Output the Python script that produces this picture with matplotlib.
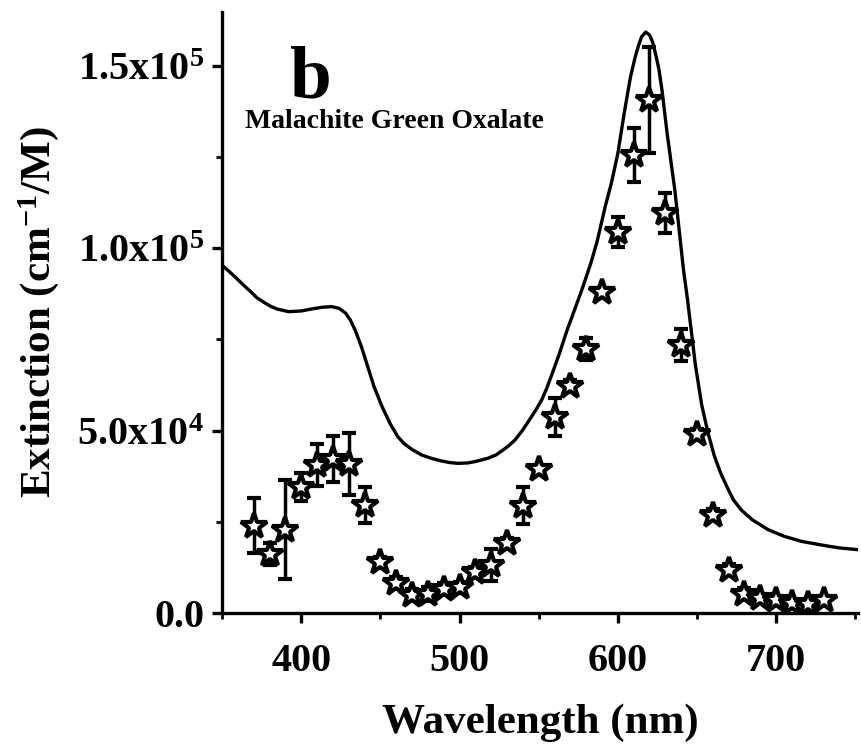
import matplotlib.pyplot as plt
from matplotlib.ticker import FixedLocator, MultipleLocator

plt.rcParams['font.family'] = ['Liberation Serif', 'DejaVu Serif']
plt.rcParams['font.weight'] = 'bold'
plt.rcParams['mathtext.fontset'] = 'custom'
plt.rcParams['mathtext.rm'] = 'Liberation Serif:bold'
plt.rcParams['mathtext.bf'] = 'Liberation Serif:bold'
plt.rcParams['mathtext.default'] = 'bf'

# calculated extinction spectrum (solid line)
curve_nm = [350, 354, 358, 363, 368, 372, 377, 381, 385, 392, 400, 406, 413, 419,
            424, 428, 431, 434, 438, 442, 446, 451, 456, 461, 465, 470, 476, 482,
            488, 494, 499, 505, 510, 518, 523, 527, 531, 535, 540, 545, 549, 552,
            555, 558, 563, 568, 573, 578, 583, 587, 592, 596, 600, 604, 608, 611,
            613, 615, 617.6, 620, 622, 624, 626, 628, 631, 633.5, 636, 639, 641.5,
            644, 646.5, 649, 653, 657, 661, 665, 669, 673, 678, 685, 695, 705, 716,
            730, 740, 752]
curve_ext = [95.3e3, 93.8e3, 92.2e3, 90.1e3, 88.1e3, 86.4e3, 85.0e3, 84.0e3, 83.3e3,
             82.6e3, 82.8e3, 83.3e3, 83.8e3, 84.0e3, 83.5e3, 82.2e3, 80.3e3, 77.6e3,
             73.0e3, 67.5e3, 62.0e3, 56.6e3, 52.0e3, 48.3e3, 46.4e3, 44.8e3, 43.3e3,
             42.4e3, 41.7e3, 41.2e3, 41.0e3, 41.1e3, 41.5e3, 42.4e3, 43.3e3, 44.5e3,
             45.8e3, 47.4e3, 50.2e3, 53.5e3, 56.2e3, 58.5e3, 61.5e3, 65.0e3, 71.0e3,
             77.6e3, 83.5e3, 89.5e3, 96.0e3, 102e3, 111.4e3, 118e3, 126e3, 137e3,
             147e3, 152.5e3, 155.5e3, 158e3, 159.3e3, 158.5e3, 156.5e3, 153e3,
             149e3, 143e3, 132e3, 124e3, 116e3, 104e3, 94e3, 86e3, 77e3, 68e3,
             57e3, 49.3e3, 43e3, 38.3e3, 34.5e3, 31.0e3, 28.2e3, 25.5e3, 22.8e3,
             21.0e3, 19.6e3, 18.5e3, 17.8e3, 17.3e3]

# measured points (stars with error bars)
meas_nm = [370, 380, 390, 400, 410, 420, 430, 440, 450, 460, 470, 480, 490, 500,
           510, 520, 530, 540, 550, 560, 570, 580, 590, 600, 610, 620, 630, 640,
           650, 660, 670, 680, 690, 700, 710, 720, 730]
meas_ext = [23.9e3, 16.2e3, 22.8e3, 34.6e3, 40.6e3, 42.2e3, 40.9e3, 29.6e3, 13.9e3,
            8.3e3, 4.9e3, 5.2e3, 6.6e3, 7.0e3, 11.2e3, 13.2e3, 19.1e3, 29.4e3,
            39.4e3, 53.8e3, 62.3e3, 72.4e3, 88.1e3, 104.5e3, 125.6e3, 140.7e3,
            109.6e3, 73.5e3, 49.0e3, 26.9e3, 11.8e3, 5.2e3, 4.1e3, 3.6e3, 2.7e3,
            2.5e3, 3.6e3]
meas_err = [7.6e3, 3.0e3, 13.6e3, 3.8e3, 5.7e3, 6.3e3, 8.5e3, 5.0e3, 1.5e3,
            1.5e3, 1.5e3, 2.0e3, 1.5e3, 1.5e3, 1.5e3, 4.4e3, 1.5e3, 5.0e3,
            1.0e3, 5.2e3, 1.5e3, 3.0e3, 1.0e3, 4.2e3, 7.5e3, 14.5e3,
            5.5e3, 4.4e3, 1.5e3, 1.5e3, 1.5e3, 1.5e3, 1.0e3, 1.0e3, 1.0e3,
            1.0e3, 1.0e3]

yticks = [0, 5e4, 1e5, 1.5e5]
ytick_labels = ['0.0', '5.0x10$^{4}$', '1.0x10$^{5}$', '1.5x10$^{5}$']
xticks = [400, 500, 600, 700]

fig = plt.figure(figsize=(8.61, 7.51), dpi=100)
ax = fig.add_axes([0.258, 0.184, 0.739, 0.80])

ax.plot(curve_nm, curve_ext, color='black', linewidth=2.4, zorder=2,
        solid_joinstyle='round')
ax.errorbar(meas_nm, meas_ext, yerr=meas_err, fmt='*', color='black',
            markersize=19, markerfacecolor='white', markeredgecolor='black',
            markeredgewidth=3, ecolor='black', elinewidth=2.5, capsize=5,
            capthick=2.5, zorder=3)

ax.set_xlim(350, 752)
ax.set_ylim(0, 1.648e5)

ax.spines['top'].set_visible(False)
ax.spines['right'].set_visible(False)
ax.spines['left'].set_linewidth(2.4)
ax.spines['bottom'].set_linewidth(2.4)

ax.xaxis.set_major_locator(FixedLocator(xticks))
ax.xaxis.set_minor_locator(MultipleLocator(50))
ax.yaxis.set_major_locator(FixedLocator(yticks))
ax.yaxis.set_minor_locator(MultipleLocator(2.5e4))
ax.set_yticklabels(ytick_labels)
ax.tick_params(axis='both', which='major', direction='out', length=7, width=2.4,
               labelsize=29)
ax.tick_params(axis='y', which='major', pad=6)
ax.tick_params(axis='x', which='major', pad=15)
ax.tick_params(axis='both', which='minor', direction='out', length=4, width=2)

ax.set_xlabel('Wavelength (nm)', fontsize=31, fontweight='bold', labelpad=17)
ax.set_ylabel('Extinction (cm$^{-1}$/M)', fontsize=31, fontweight='bold', labelpad=12)

ax.text(0.107, 0.857, 'b', transform=ax.transAxes, fontsize=54, fontweight='bold')
ax.text(0.036, 0.807, 'Malachite Green Oxalate', transform=ax.transAxes,
        fontsize=20, fontweight='bold')

fig.savefig('out.png', dpi=100)
